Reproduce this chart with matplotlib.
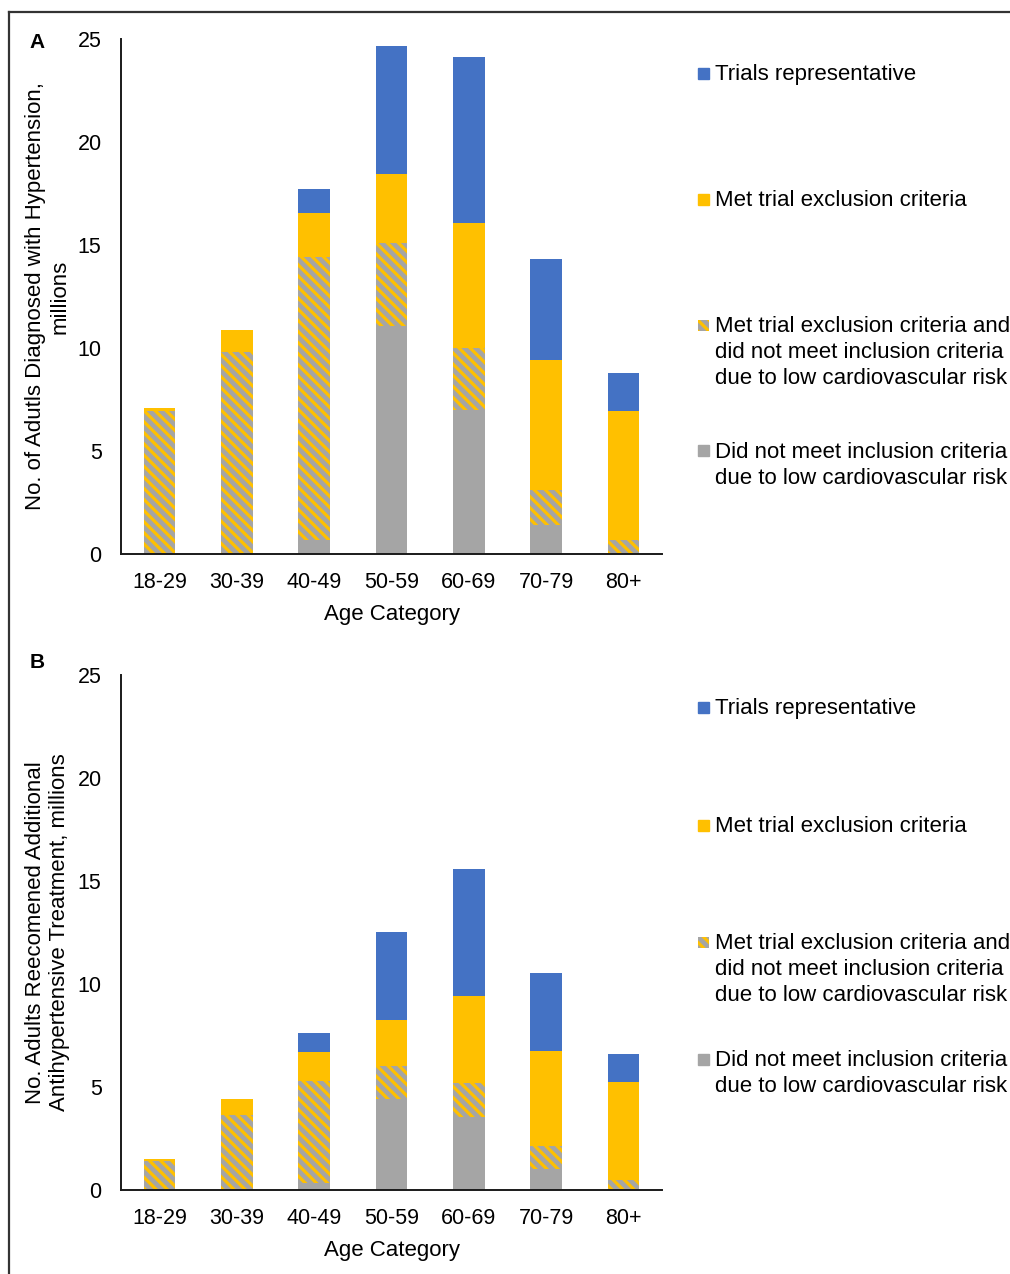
import matplotlib
matplotlib.use('Agg')
import matplotlib.pyplot as plt
from matplotlib.patches import Rectangle
from matplotlib.lines import Line2D
import numpy as np

plt.rcParams['font.family'] = ['Liberation Sans', 'DejaVu Sans']
plt.rcParams['hatch.linewidth'] = 2.3

ages = ['18-29', '30-39', '40-49', '50-59', '60-69', '70-79', '80+']

# Panel A: adults diagnosed with hypertension (millions), bottom to top
a_low_risk = [0.0, 0.0, 0.67, 11.05, 7.01, 1.42, 0.0]
a_both = [6.95, 9.8, 13.74, 4.03, 3.01, 1.67, 0.70]
a_excluded = [0.15, 1.05, 2.12, 3.37, 6.06, 6.34, 6.23]
a_repr = [0.0, 0.0, 1.20, 6.19, 8.04, 4.88, 1.87]

# Panel B: adults recommended additional treatment (millions)
b_low_risk = [0.0, 0.0, 0.36, 4.40, 3.56, 1.00, 0.0]
b_both = [1.41, 3.64, 4.93, 1.62, 1.62, 1.15, 0.49]
b_excluded = [0.09, 0.78, 1.43, 2.22, 4.25, 4.60, 4.74]
b_repr = [0.0, 0.0, 0.89, 4.27, 6.14, 3.77, 1.37]

legend_labels = ['Trials representative',
                 'Met trial exclusion criteria',
                 'Met trial exclusion criteria and\ndid not meet inclusion criteria\ndue to low cardiovascular risk',
                 'Did not meet inclusion criteria\ndue to low cardiovascular risk']

BLUE = '#4472C4'
YELLOW = '#FFC000'
GRAY = '#A5A5A5'

# bar style per series, bottom to top
styles = [
    dict(color=GRAY),
    dict(facecolor=GRAY, edgecolor=YELLOW, hatch='\\\\\\', linewidth=0),
    dict(color=YELLOW),
    dict(color=BLUE),
]

W, H = 1010, 1274
fig = plt.figure(figsize=(W / 100, H / 100), dpi=100)


def fx(px):
    return px / W


def fy(py):
    return 1 - py / H


def draw_panel(rect, series, ylabel, letter, letter_y, legend_y):
    ax = fig.add_axes(rect)
    x = np.arange(len(ages))
    bottom = np.zeros(len(ages))
    for vals, st in zip(series, styles):
        vals = np.array(vals)
        ax.bar(x, vals, width=0.41, bottom=bottom, **st)
        bottom += vals
    ax.set_xlim(-0.5, len(ages) - 0.5)
    ax.set_ylim(0, 25)
    ax.set_yticks([0, 5, 10, 15, 20, 25])
    ax.set_xticks(x)
    ax.set_xticklabels(ages)
    ax.tick_params(length=0, labelsize=15.5)
    ax.tick_params(axis='x', pad=13)
    ax.tick_params(axis='y', pad=14)
    for s in ['top', 'right']:
        ax.spines[s].set_visible(False)
    for s in ['left', 'bottom']:
        ax.spines[s].set_color('#1a1a1a')
        ax.spines[s].set_linewidth(1.4)
    ax.set_xlabel('Age Category', fontsize=16, labelpad=8)
    ax.set_ylabel(ylabel, fontsize=16, linespacing=1.2, multialignment='center')
    ax.yaxis.set_label_coords(-0.094, 0.5)

    fig.text(fx(37), fy(letter_y), letter, fontsize=15, fontweight='bold',
             ha='center', va='center')

    # legend, top entry first
    order = [3, 2, 1, 0]
    for label, idx, ly in zip(legend_labels, order, legend_y):
        sq = Rectangle((fx(698), fy(ly + 5.5)), fx(11), 11 / H,
                       transform=fig.transFigure, **styles[idx])
        fig.add_artist(sq)
        fig.text(fx(715), fy(ly - 9), label, fontsize=16, ha='left', va='top',
                 linespacing=1.3)
    return ax


draw_panel([fx(121), 1 - 554 / H, fx(541), 515 / H],
           [a_low_risk, a_both, a_excluded, a_repr],
           'No. of Adutls Diagnosed with Hypertension,\nmillions',
           'A', 43, [73, 199, 325, 451])

draw_panel([fx(121), 1 - 1190 / H, fx(541), 515 / H],
           [b_low_risk, b_both, b_excluded, b_repr],
           'No. Adults Reecomened Additional\nAntihypertensive Treatment, millions',
           'B', 663, [707, 825, 942, 1059])

# frame lines along the top and left edges
fig.add_artist(Line2D([fx(9), fx(9)], [0, fy(12)], transform=fig.transFigure,
                      color='#333333', linewidth=1.6))
fig.add_artist(Line2D([fx(9), 1], [fy(12), fy(12)], transform=fig.transFigure,
                      color='#333333', linewidth=1.6))

fig.savefig('out.png', dpi=100)
